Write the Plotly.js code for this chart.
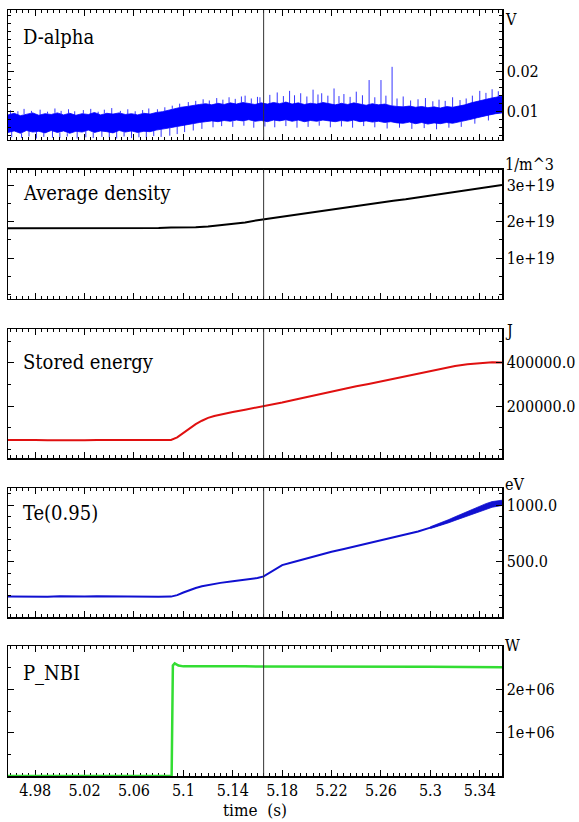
<!DOCTYPE html>
<html>
<head>
<meta charset="utf-8">
<script src="https://cdn.plot.ly/plotly-3.0.1.min.js"></script>
<style>
html,body{margin:0;padding:0;background:#fff;}
#chart{width:579px;height:822px;}
text{font-stretch:condensed;}
</style>
</head>
<body>
<div id="chart"></div>
<script>
// ---------------- DATA ----------------
const timeRange = [4.958, 5.358];
const cursorT = 5.165;
const panelLabels = ['D-alpha', 'Average density', 'Stored energy', 'Te(0.95)', 'P_NBI'];
const unitLabels = ['V', '1/m^3', 'J', 'eV', 'W'];
const xTickVals = [4.98, 5.02, 5.06, 5.10, 5.14, 5.18, 5.22, 5.26, 5.30, 5.34];
const xTickText = ['4.98', '5.02', '5.06', '5.1', '5.14', '5.18', '5.22', '5.26', '5.3', '5.34'];

// D-alpha (V): dense core envelope of the noisy signal
const daT = [4.958,4.963,4.968,4.973,4.978,4.983,4.988,4.993,4.998,5.003,5.008,5.013,5.018,5.023,5.028,5.033,5.038,5.043,5.048,5.053,5.058,5.063,5.068,5.073,5.078,5.083,5.088,5.093,5.098,5.103,5.108,5.113,5.118,5.123,5.128,5.133,5.138,5.143,5.148,5.153,5.158,5.163,5.168,5.173,5.178,5.183,5.188,5.193,5.198,5.203,5.208,5.213,5.218,5.223,5.228,5.233,5.238,5.243,5.248,5.253,5.258,5.263,5.268,5.273,5.278,5.283,5.288,5.293,5.298,5.303,5.308,5.313,5.318,5.323,5.328,5.333,5.338,5.343,5.348,5.353,5.358];
const daHi = [0.0092,0.0096,0.0090,0.0094,0.0097,0.0091,0.0095,0.0093,0.0097,0.0092,0.0096,0.0091,0.0095,0.0093,0.0098,0.0092,0.0096,0.0094,0.0097,0.0093,0.0095,0.0092,0.0096,0.0094,0.0098,0.0100,0.0104,0.0107,0.0111,0.0113,0.0116,0.0118,0.0120,0.0117,0.0121,0.0118,0.0122,0.0119,0.0123,0.0120,0.0118,0.0122,0.0119,0.0123,0.0120,0.0124,0.0119,0.0122,0.0118,0.0121,0.0119,0.0123,0.0120,0.0117,0.0121,0.0118,0.0122,0.0119,0.0116,0.0120,0.0117,0.0119,0.0115,0.0113,0.0112,0.0114,0.0111,0.0113,0.0110,0.0112,0.0109,0.0113,0.0111,0.0114,0.0117,0.0122,0.0126,0.0130,0.0133,0.0136,0.0139];
const daLo = [0.0048,0.0052,0.0046,0.0053,0.0049,0.0051,0.0047,0.0053,0.0048,0.0052,0.0046,0.0051,0.0049,0.0054,0.0048,0.0052,0.0050,0.0047,0.0053,0.0049,0.0052,0.0048,0.0051,0.0050,0.0054,0.0056,0.0059,0.0062,0.0065,0.0067,0.0070,0.0073,0.0075,0.0077,0.0075,0.0078,0.0076,0.0079,0.0077,0.0080,0.0076,0.0078,0.0075,0.0079,0.0077,0.0080,0.0076,0.0079,0.0075,0.0078,0.0076,0.0079,0.0077,0.0075,0.0078,0.0076,0.0079,0.0075,0.0077,0.0074,0.0076,0.0073,0.0075,0.0072,0.0071,0.0074,0.0070,0.0073,0.0069,0.0072,0.0070,0.0073,0.0071,0.0074,0.0077,0.0081,0.0085,0.0089,0.0092,0.0095,0.0097];
// upward noise excursions (time, peak) starting from the core
const upT   = [4.960,4.966,4.971,4.977,4.984,4.990,4.996,5.001,5.007,5.012,5.019,5.025,5.031,5.036,5.042,5.049,5.055,5.061,5.067,5.072,5.079,5.085,5.091,5.097,5.104,5.110,5.116,5.121,5.127,5.132,5.137,5.142,5.147,5.150,5.155,5.160,5.162,5.170,5.176,5.181,5.186,5.190,5.195,5.200,5.205,5.209,5.212,5.217,5.222,5.226,5.230,5.235,5.240,5.245,5.2504,5.255,5.2600,5.264,5.2690,5.273,5.278,5.284,5.290,5.296,5.302,5.307,5.312,5.318,5.324,5.329,5.334,5.340,5.345,5.350,5.355];
const upV   = [0.0104,0.0101,0.0107,0.0102,0.0105,0.0100,0.0108,0.0102,0.0106,0.0101,0.0104,0.0107,0.0100,0.0105,0.0109,0.0102,0.0106,0.0101,0.0104,0.0108,0.0106,0.0111,0.0115,0.0120,0.0124,0.0127,0.0131,0.0128,0.0134,0.0130,0.0136,0.0132,0.0138,0.0140,0.0133,0.0137,0.0136,0.0142,0.0148,0.0139,0.0152,0.0141,0.0146,0.0138,0.0155,0.0143,0.0146,0.0140,0.0158,0.0139,0.0144,0.0137,0.0150,0.0141,0.0179,0.0136,0.0179,0.0140,0.0212,0.0133,0.0138,0.0128,0.0131,0.0134,0.0126,0.0130,0.0127,0.0136,0.0129,0.0133,0.0140,0.0152,0.0147,0.0156,0.0151];
// downward noise excursions (time, trough)
const dnT   = [4.961,4.969,4.975,4.981,4.987,4.994,5.000,5.006,5.014,5.021,5.027,5.034,5.040,5.046,5.052,5.058,5.064,5.070,5.076,5.082,5.089,5.095,5.101,5.108,5.115,5.124,5.131,5.140,5.149,5.157,5.166,5.174,5.183,5.192,5.201,5.210,5.219,5.228,5.237,5.246,5.255,5.265,5.275,5.285,5.295,5.305,5.315,5.325,5.336,5.347];
const dnV   = [0.0036,0.0034,0.0038,0.0033,0.0037,0.0035,0.0034,0.0038,0.0033,0.0036,0.0034,0.0037,0.0035,0.0033,0.0038,0.0034,0.0036,0.0035,0.0039,0.0037,0.0040,0.0044,0.0049,0.0053,0.0057,0.0061,0.0064,0.0062,0.0065,0.0060,0.0063,0.0061,0.0064,0.0060,0.0062,0.0065,0.0061,0.0063,0.0060,0.0064,0.0061,0.0058,0.0060,0.0057,0.0059,0.0056,0.0060,0.0062,0.0070,0.0078];

// Average density (1/m^3)
const densT = [4.958,4.97,4.98,4.99,5.00,5.01,5.02,5.03,5.04,5.05,5.06,5.07,5.08,5.09,5.10,5.11,5.12,5.13,5.14,5.15,5.16,5.17,5.18,5.19,5.20,5.21,5.22,5.23,5.24,5.25,5.26,5.27,5.28,5.29,5.30,5.31,5.32,5.33,5.34,5.35,5.358];
const densV = [1.82e19,1.82e19,1.83e19,1.83e19,1.82e19,1.83e19,1.82e19,1.81e19,1.82e19,1.82e19,1.82e19,1.83e19,1.83e19,1.84e19,1.84e19,1.85e19,1.87e19,1.90e19,1.94e19,1.98e19,2.04e19,2.09e19,2.14e19,2.18e19,2.23e19,2.28e19,2.32e19,2.37e19,2.42e19,2.47e19,2.52e19,2.57e19,2.61e19,2.66e19,2.71e19,2.76e19,2.81e19,2.86e19,2.91e19,2.96e19,3.00e19];

// Stored energy (J)
const wT = [4.958,4.97,4.98,4.99,5.00,5.01,5.02,5.03,5.04,5.05,5.06,5.07,5.08,5.09,5.095,5.10,5.105,5.11,5.115,5.12,5.125,5.13,5.14,5.15,5.16,5.165,5.17,5.18,5.19,5.20,5.21,5.22,5.23,5.24,5.25,5.26,5.27,5.28,5.29,5.30,5.31,5.32,5.33,5.34,5.35,5.358];
const wV = [43000,44000,43000,42000,41000,40000,42000,43000,43000,42000,42000,43000,42000,43000,55000,76000,97000,116000,132000,145000,154000,161000,172000,183000,193000,199000,204000,216000,229000,242000,255000,268000,280000,291000,302000,314000,327000,340000,352000,364000,375000,385000,393000,399000,402000,401000];

// Te(0.95) (eV)
const teT = [4.958,4.97,4.98,4.99,5.00,5.01,5.02,5.03,5.04,5.05,5.06,5.07,5.08,5.09,5.095,5.10,5.105,5.11,5.115,5.12,5.13,5.14,5.15,5.16,5.165,5.17,5.175,5.18,5.19,5.20,5.21,5.22,5.23,5.24,5.25,5.26,5.27,5.28,5.29,5.30,5.31,5.32,5.33,5.34,5.35,5.358];
const teV = [192,190,193,191,194,192,193,195,193,194,192,193,191,192,205,228,250,268,283,295,313,328,342,356,370,405,440,470,500,530,560,588,612,638,662,688,712,736,766,800,836,880,925,970,1005,1020];
const teBandT  = [5.300,5.305,5.310,5.315,5.320,5.325,5.330,5.335,5.340,5.345,5.350,5.355,5.358];
const teBandHi = [808,828,848,872,896,920,945,970,995,1012,1030,1040,1042];
const teBandLo = [792,808,824,844,864,884,905,926,946,964,980,990,996];

// P_NBI (W)
const nbiT = [4.958,5.0905,5.0915,5.093,5.096,5.10,5.15,5.20,5.25,5.30,5.358];
const nbiP = [0,0,2.55e6,2.60e6,2.55e6,2.53e6,2.53e6,2.53e6,2.52e6,2.52e6,2.51e6];

// y-axis labels
const yTicks = [
  {vals:[0.01,0.02], text:['0.01','0.02'], range:[0.00305,0.0354], minor:0.002},
  {vals:[1e19,2e19,3e19], text:['1e+19','2e+19','3e+19'], range:[-0.096e19,3.423e19], minor:0.5e19},
  {vals:[200000,400000], text:['200000.0','400000.0'], range:[-40000,555500], minor:100000},
  {vals:[500,1000], text:['500.0','1000.0'], range:[12,1150], minor:100},
  {vals:[1e6,2e6], text:['1e+06','2e+06'], range:[0,3.0e6], minor:0.5e6}
];

// ---------------- LAYOUT ----------------
const W = 579, H = 822;
const mL = 8, mR = 77, mT = 10, mB = 46;
const plotH = H - mT - mB, plotW = W - mL - mR;
const panelTopPx = [10, 169.5, 329, 488, 646];
const panelBotPx = [139.5, 298.5, 458, 617, 776];
const labelCenterPx = [37, 193, 361.7, 512.5, 673.3];
const unitCenterPx = [20, 164, 330, 484, 645];
const pyPaper = px => (H - mB - px) / plotH;
const FONT = 'DejaVu Serif';
const TICK = 16;

const traces = [];
const sfx = i => (i === 0 ? '' : String(i + 1));

traces.push({x: daT, y: daLo, xaxis: 'x', yaxis: 'y', mode: 'lines', line: {color: '#0000ff', width: 0.8}, hoverinfo: 'skip'});
traces.push({x: daT, y: daHi, xaxis: 'x', yaxis: 'y', mode: 'lines', fill: 'tonexty', fillcolor: '#0000ff', line: {color: '#0000ff', width: 0.8}, hoverinfo: 'skip'});
function spikes(ts, vs, baseT, baseV) {
  const xs = [], ys = [];
  ts.forEach((t, i) => {
    let k = 0, best = 1e9;
    baseT.forEach((bt, j) => { const d = Math.abs(bt - t); if (d < best) { best = d; k = j; } });
    xs.push(t, t, null); ys.push(baseV[k], vs[i], null);
  });
  return {xs, ys};
}
const up = spikes(upT, upV, daT, daHi);
const dn = spikes(dnT, dnV, daT, daLo);
traces.push({x: up.xs, y: up.ys, xaxis: 'x', yaxis: 'y', mode: 'lines', line: {color: '#0000ff', width: 0.8}, hoverinfo: 'skip'});
traces.push({x: dn.xs, y: dn.ys, xaxis: 'x', yaxis: 'y', mode: 'lines', line: {color: '#0000ff', width: 0.8}, hoverinfo: 'skip'});

traces.push({x: densT, y: densV, xaxis: 'x2', yaxis: 'y2', mode: 'lines', line: {color: '#000000', width: 2}});
traces.push({x: wT, y: wV, xaxis: 'x3', yaxis: 'y3', mode: 'lines', line: {color: '#e01010', width: 2}});
traces.push({x: teT, y: teV, xaxis: 'x4', yaxis: 'y4', mode: 'lines', line: {color: '#1010d0', width: 2}});
traces.push({x: teBandT, y: teBandLo, xaxis: 'x4', yaxis: 'y4', mode: 'lines', line: {color: '#1010d0', width: 0.8}, hoverinfo: 'skip'});
traces.push({x: teBandT, y: teBandHi, xaxis: 'x4', yaxis: 'y4', mode: 'lines', fill: 'tonexty', fillcolor: '#1010d0', line: {color: '#1010d0', width: 0.8}, hoverinfo: 'skip'});
traces.push({x: nbiT, y: nbiP, xaxis: 'x5', yaxis: 'y5', mode: 'lines', line: {color: '#33dd33', width: 2.5}, cliponaxis: false});

const layout = {
  width: W, height: H,
  margin: {l: mL, r: mR, t: mT, b: mB, pad: 0},
  paper_bgcolor: '#ffffff', plot_bgcolor: '#ffffff',
  showlegend: false,
  font: {family: FONT, size: TICK, color: '#000000'},
  annotations: [], shapes: []
};

for (let i = 0; i < 5; i++) {
  const s = sfx(i);
  const dom = [pyPaper(panelBotPx[i]), pyPaper(panelTopPx[i])];
  layout['xaxis' + s] = {
    domain: [0, 1], anchor: 'y' + s, range: timeRange,
    showline: true, linecolor: '#000', linewidth: 1.5, mirror: 'ticks',
    ticks: 'inside', ticklen: 6, tickwidth: 1, tickcolor: '#000',
    tickmode: 'array', tickvals: xTickVals, ticktext: xTickText,
    showticklabels: i === 4, tickfont: {family: FONT, size: TICK, color: '#000'},
    minor: {ticks: 'inside', ticklen: 3, tickwidth: 1, tickcolor: '#000', dtick: 0.005, tick0: 4.96, showgrid: false},
    showgrid: false, zeroline: false, fixedrange: true,
    layer: i === 4 ? 'below traces' : 'above traces'
  };
  if (i > 0) layout['xaxis' + s].matches = 'x';
  if (i === 4) {
    layout['xaxis' + s].title = {text: 'time\u00a0\u00a0(s)', font: {family: FONT, size: 17, color: '#000'}, standoff: 3};
    layout['xaxis' + s].ticklabelstandoff = -1;
  }
  const yt = yTicks[i];
  layout['yaxis' + s] = {
    domain: dom, anchor: 'x' + s, side: 'right', range: yt.range,
    showline: true, linecolor: '#000', linewidth: 1.5, mirror: 'ticks',
    ticks: 'inside', ticklen: 6, tickwidth: 1, tickcolor: '#000',
    tickmode: 'array', tickvals: yt.vals, ticktext: yt.text,
    tickfont: {family: FONT, size: TICK, color: '#000'},
    minor: {ticks: 'inside', ticklen: 3, tickwidth: 1, tickcolor: '#000', dtick: yt.minor, tick0: 0, showgrid: false},
    showgrid: false, zeroline: false, fixedrange: true,
    layer: i === 4 ? 'below traces' : 'above traces'
  };
  layout.shapes.push({type: 'line', xref: 'x' + s, yref: 'y' + s + ' domain', x0: cursorT, x1: cursorT, y0: 0, y1: 1, line: {color: '#333333', width: 1}});
  layout.annotations.push({xref: 'paper', yref: 'paper', x: (21 - mL) / plotW, y: pyPaper(labelCenterPx[i]), xanchor: 'left', yanchor: 'middle', text: panelLabels[i], showarrow: false, font: {family: FONT, size: 20, color: '#000'}});
  layout.annotations.push({xref: 'paper', yref: 'paper', x: (503 - mL) / plotW, y: pyPaper(unitCenterPx[i]), xanchor: 'left', yanchor: 'middle', text: unitLabels[i], showarrow: false, font: {family: FONT, size: TICK, color: '#000'}});
}

Plotly.newPlot('chart', traces, layout, {staticPlot: true, displayModeBar: false});
</script>
</body>
</html>
